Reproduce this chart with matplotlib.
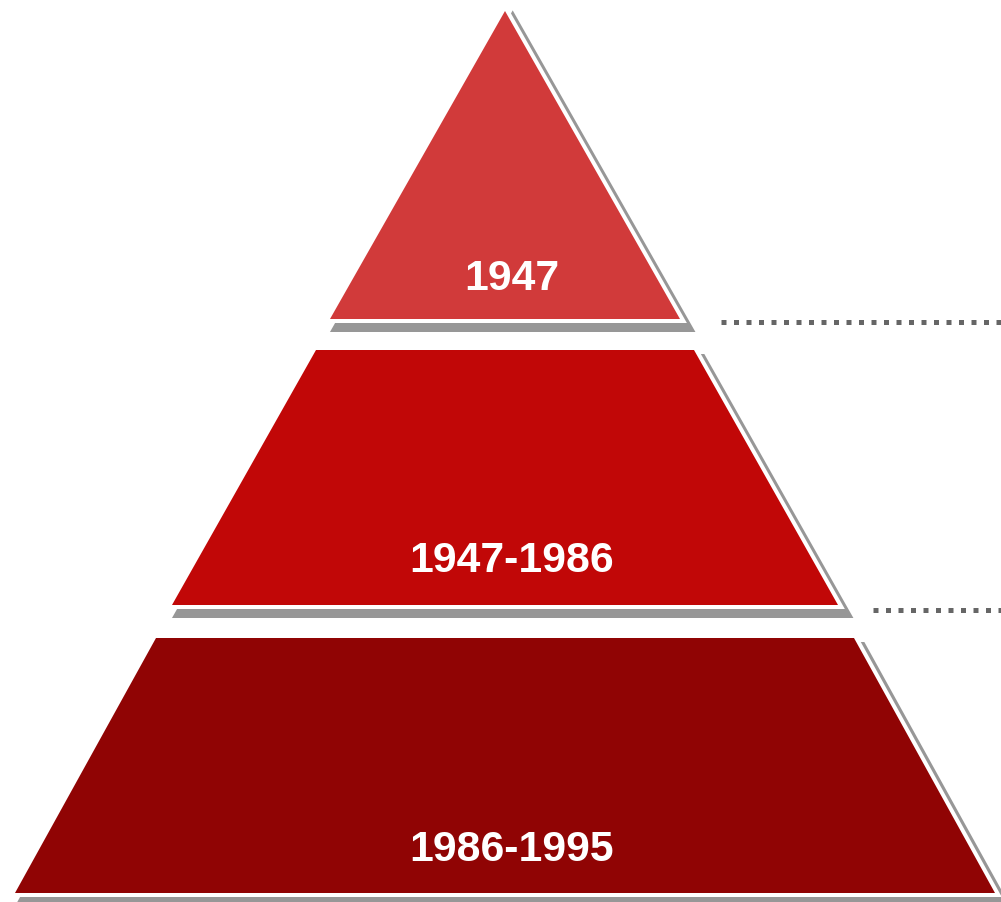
import matplotlib
matplotlib.use("Agg")
import matplotlib.pyplot as plt
from matplotlib.patches import Polygon

# ---- data ----
labels = ["1947", "1947-1986", "1986-1995"]
colors = ["#D13A3A", "#C10707", "#900404"]

# layout (pixel space, y downward)
tops = [11, 350, 638]
bottoms = [319, 605, 893]
top_half = [0, 189, 349]
bottom_half = [175, 333, 490]
center_x = 505
label_baselines = [290, 572, 861]
dotted_y = [321.5, 610]
dotted_x0 = [721, 873]

W, H = 1001, 902
DPI = 100
fig = plt.figure(figsize=(W / DPI, H / DPI), dpi=DPI)
ax = fig.add_axes([0, 0, 1, 1])
ax.set_xlim(0, W)
ax.set_ylim(H, 0)
ax.axis("off")

px = 72.0 / DPI  # points per pixel
shadow_dx, shadow_dy = 7.7, 8.5

for lab, col, t, b, th, bh, base in zip(labels, colors, tops, bottoms,
                                        top_half, bottom_half, label_baselines):
    if th == 0:
        verts = [(center_x, t), (center_x + bh, b), (center_x - bh, b)]
    else:
        verts = [(center_x - th, t), (center_x + th, t),
                 (center_x + bh, b), (center_x - bh, b)]
    sh = [(x + shadow_dx, y + shadow_dy) for x, y in verts]
    ax.add_patch(Polygon(sh, closed=True, facecolor="#979797",
                         edgecolor="#979797", linewidth=9 * px,
                         joinstyle="miter", zorder=1))
    ax.add_patch(Polygon(verts, closed=True, facecolor="white",
                         edgecolor="white", linewidth=8 * px,
                         joinstyle="miter", zorder=2))
    ax.add_patch(Polygon(verts, closed=True, facecolor=col,
                         edgecolor="none", zorder=3))
    ax.text(center_x + 7, base, lab, color="white", fontsize=30.8,
            fontweight="bold", family="Liberation Sans",
            ha="center", va="baseline", zorder=4)

lw = 5 * px
for y, x0 in zip(dotted_y, dotted_x0):
    ax.plot([x0, W + 5], [y, y], color="#666666", linewidth=lw,
            linestyle=(0, (1.0, 1.5)), solid_capstyle="butt",
            dash_capstyle="butt", zorder=1)

fig.savefig("out.png", dpi=DPI)
